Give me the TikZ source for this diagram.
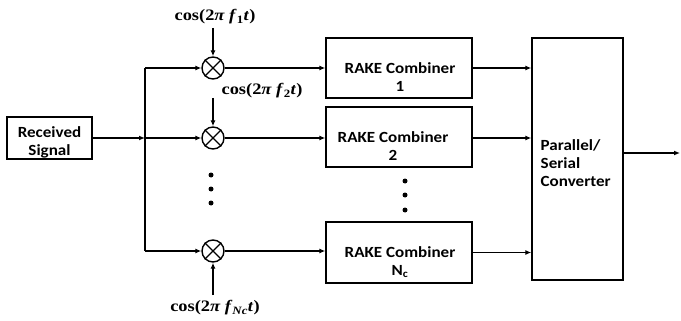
\documentclass[tikz,border=0pt]{standalone}
\usepackage{fontspec}
\setmainfont{Liberation Serif}[FakeStretch=1.15]
\newfontfamily\boxfont{Carlito}[FakeStretch=1.1]
\usetikzlibrary{arrows.meta}
\begin{document}
\begin{tikzpicture}[x=1pt,y=-1pt,
  line width=1.4pt,
  arr/.style={-{Latex[length=6pt,width=5pt]}},
  blk/.style={draw, rectangle, inner sep=0pt},
  mix/.style={draw, circle, minimum size=22pt, inner sep=0pt},
  btxt/.style={font=\boxfont\bfseries\fontsize{15.5}{18}\selectfont, align=center, inner sep=0pt},
  ctxt/.style={font=\bfseries\fontsize{16}{18}\selectfont, inner sep=0pt},
  dot/.style={circle, fill, minimum size=5pt, inner sep=0pt}]
\useasboundingbox (0,0) rectangle (681,321);

% received signal
\node[blk, minimum width=85pt, minimum height=42pt] (rs) at (49.5,138) {};
\node[btxt] (rst) at (49.5,142) {Received\\Signal};
\coordinate (bm) at (145,138);
\coordinate (bt) at (145,68);
\coordinate (bb) at (145,251);

% mixers
\node[mix] (m1) at (213,68) {};
\node[mix] (m2) at (213,138) {};
\node[mix] (m3) at (213,251) {};
\foreach \m in {m1,m2,m3}{
  \draw (\m.north east) -- (\m.south west);
  \draw (\m.north west) -- (\m.south east);
}

% cos labels
\node[ctxt] (c1) at (215,17) {cos(2\textit{π f}\textsubscript{1}\textit{t})};
\node[ctxt] (c2) at (262,91) {cos(2\textit{π f}\textsubscript{2}\textit{t})};
\node[ctxt] (c3) at (215,308) {cos(2\textit{π f}\textsubscript{\textit{Nc}}\textit{t})};
\coordinate (c1a) at (213,28);
\coordinate (c2a) at (213,98);
\coordinate (c3a) at (213,295);

% dots
\node[dot] (d1) at (211,175) {};
\node[dot] (d2) at (211,189) {};
\node[dot] (d3) at (211,203) {};

% RAKE combiners
\node[blk, minimum width=146pt, minimum height=60pt] (r1) at (399,68) {};
\node[blk, minimum width=146pt, minimum height=60pt] (r2) at (399,137) {};
\node[blk, minimum width=146pt, minimum height=61pt] (r3) at (399,252.5) {};
\node[btxt, anchor=north] (r1t) at (400,62) {RAKE Combiner\\1};
\node[btxt, anchor=north] (r2t) at (393,131) {RAKE Combiner\\2};
\node[btxt, anchor=north] (r3t) at (400,246) {RAKE Combiner\\N\textsubscript{c}};
\node[dot] (e1) at (405,181) {};
\node[dot] (e2) at (405,195) {};
\node[dot] (e3) at (405,210) {};

% parallel/serial
\node[blk, minimum width=91pt, minimum height=242pt] (ps) at (577.5,159) {};
\node[btxt, align=left, anchor=north west] (pst) at (540,139) {Parallel/\\Serial\\Converter};
\coordinate (out) at (680,153);

% connections
\draw[arr] (rs.east) -- (bm);
\draw (bt) -- (bb);
\draw[arr] (bt) -- (m1.west);
\draw[arr] (bm) -- (m2.west);
\draw[arr] (bb) -- (m3.west);
\draw[arr] (c1a) -- (m1.north);
\draw[arr] (c2a) -- (m2.north);
\draw[arr] (c3a) -- (m3.south);
\draw[arr] (m1.east) -- (r1.west |- m1.east);
\draw[arr] (m2.east) -- (r2.west |- m2.east);
\draw[arr] (m3.east) -- (r3.west |- m3.east);
\draw[arr] (r1.east) -- (ps.west |- r1.east);
\draw[arr] (r2.east |- m2.east) -- (ps.west |- m2.east);
\draw[arr] (r3.east) -- (ps.west |- r3.east);
\draw[arr] (ps.east |- out) -- (out);
\end{tikzpicture}
\end{document}
